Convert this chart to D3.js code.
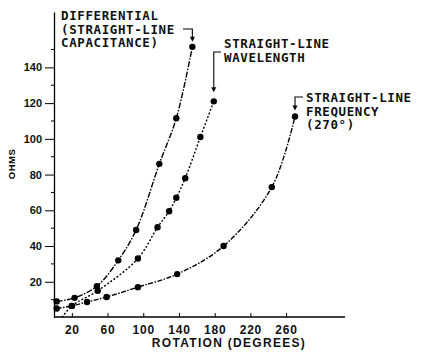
<!DOCTYPE html>
<html>
<head>
<meta charset="utf-8">
<script src="https://cdn.jsdelivr.net/npm/d3@7"></script>
<style>
  body { margin: 0; background: #fff; }
  svg { font-family: "Liberation Sans", Arial, sans-serif; font-weight: bold; }
  .axis text { font-weight: bold; fill: #111; }
  .lbl { font-family: "DejaVu Sans Mono", monospace; font-size: 12.5px; letter-spacing: 0.6px; fill: #111; }
</style>
</head>
<body>
<svg id="chart" width="422" height="358"></svg>
<script>
// rotation (degrees) / resistance (ohms)
var diffDeg  = [3, 23, 48, 72, 92, 118, 137, 155];
var diffOhm  = [9, 11, 17.5, 32, 49, 86, 111.5, 151.5];
var waveDeg  = [9, 20, 49, 94, 116, 129, 137, 147, 164, 179];
var waveOhm  = [0, 6.5, 15, 33, 50.5, 59.5, 67, 78, 101, 121];
var freqDeg  = [3, 20, 37, 59, 94, 138, 190, 244, 270];
var freqOhm  = [5, 6.5, 8.7, 11.5, 17, 24.3, 40, 73, 112.5];

var xTicks = [20, 60, 100, 140, 180, 220, 260];
var yTicks = [20, 40, 60, 80, 100, 120, 140];
var yMinor = [10, 30, 50, 70, 90, 110, 130, 150];

var svg = d3.select("#chart");

var x = d3.scaleLinear().domain([0, 270]).range([54, 295]);
var y = d3.scaleLinear().domain([0, 171]).range([317.5, 12]);

function zip(a, b) { return a.map(function(d, i) { return [d, b[i]]; }); }

var series = [
  {pts: zip(diffDeg, diffOhm), dash: "6,1.5,1.5,1.5"},
  {pts: zip(waveDeg, waveOhm), dash: "2,1.8"},
  {pts: zip(freqDeg, freqOhm), dash: "5,1.5,1.5,1.5"}
];

// axes
var gx = svg.append("g")
  .attr("class", "axis")
  .attr("transform", "translate(0,317)")
  .call(d3.axisBottom(x).tickValues(xTicks).tickSize(-4).tickPadding(8).tickSizeOuter(0));
gx.select(".domain").attr("d", "M54,0H345").attr("stroke-width", 1.3);
gx.selectAll("text").style("font-size", "12px").style("letter-spacing", "0.8px");

var gy = svg.append("g")
  .attr("class", "axis")
  .attr("transform", "translate(54,0)")
  .call(d3.axisLeft(y).tickValues(yTicks).tickSize(9).tickPadding(3).tickSizeOuter(0));
gy.select(".domain").attr("stroke-width", 1.3);
gy.selectAll("text").style("font-size", "11px");

svg.append("g").selectAll("line")
  .data(yMinor)
  .enter().append("line")
  .attr("x1", 51).attr("x2", 54)
  .attr("y1", function(d) { return y(d); })
  .attr("y2", function(d) { return y(d); })
  .attr("stroke", "#000");

svg.append("text")
  .attr("transform", "translate(15,164) rotate(-90)")
  .attr("text-anchor", "middle")
  .style("font-size", "9.5px")
  .style("letter-spacing", "0.5px")
  .text("OHMS");

svg.append("text")
  .attr("x", 229).attr("y", 347)
  .attr("text-anchor", "middle")
  .style("font-size", "12px")
  .style("letter-spacing", "1.3px")
  .style("fill", "#111")
  .text("ROTATION (DEGREES)");

// curves
var line = d3.line()
  .x(function(d) { return x(d[0]); })
  .y(function(d) { return y(d[1]); })
  .curve(d3.curveCatmullRom.alpha(0.5));

series.forEach(function(s) {
  svg.append("path")
    .attr("d", line(s.pts))
    .attr("fill", "none")
    .attr("stroke", "#000")
    .attr("stroke-width", 1.4)
    .attr("stroke-dasharray", s.dash);

  svg.append("g").selectAll("circle")
    .data(s.pts.filter(function(d) { return d[1] > 1; }))
    .enter().append("circle")
    .attr("cx", function(d) { return x(d[0]); })
    .attr("cy", function(d) { return y(d[1]); })
    .attr("r", 3.2)
    .attr("fill", "#000");
});

// labels with bracket arrows
function label(lines, tx, ty, pt, hx, hy, gap) {
  var t = svg.append("text").attr("class", "lbl");
  lines.forEach(function(l, i) {
    t.append("tspan").attr("x", tx).attr("y", ty + i * 13.5).text(l);
  });
  var px = x(pt[0]), py = y(pt[1]) - gap;
  svg.append("path")
    .attr("d", "M" + hx + "," + hy + "H" + px + "V" + (py - 4))
    .attr("fill", "none").attr("stroke", "#000").attr("stroke-width", 1.1);
  svg.append("path")
    .attr("d", "M" + (px - 2.5) + "," + (py - 5) + "L" + (px + 2.5) + "," + (py - 5) + "L" + px + "," + py + "Z")
    .attr("fill", "#000");
}

label(["DIFFERENTIAL", "(STRAIGHT-LINE", "CAPACITANCE)"], 61, 20,
      [diffDeg[diffDeg.length - 1], diffOhm[diffOhm.length - 1]], 183, 29, 5);
label(["STRAIGHT-LINE", "WAVELENGTH"], 224, 48,
      [waveDeg[waveDeg.length - 1], waveOhm[waveOhm.length - 1]], 221, 52, 9);
label(["STRAIGHT-LINE", "FREQUENCY", "(270\u00b0)"], 306, 102,
      [freqDeg[freqDeg.length - 1], freqOhm[freqOhm.length - 1]], 303, 97, 6);
</script>
</body>
</html>
